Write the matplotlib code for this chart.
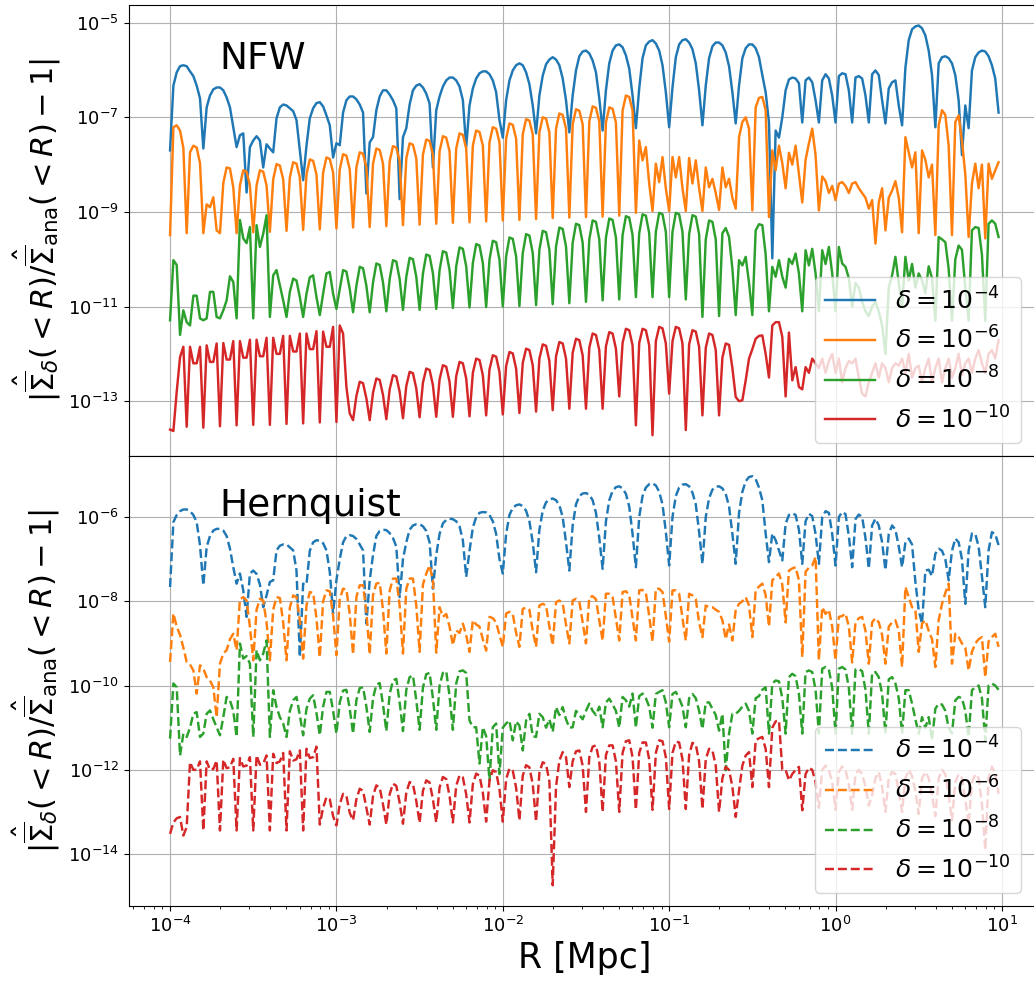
import numpy as np
import matplotlib
matplotlib.use('Agg')
import matplotlib.pyplot as plt
from matplotlib.ticker import NullLocator

# radii: 50 samples per decade starting at 1e-4 Mpc
R = np.logspace(-4, 1, 250, endpoint=False)
DELTAS = ['10^{-4}', '10^{-6}', '10^{-8}', '10^{-10}']

# log10 of the relative error, NFW profile
nfw_d4 = [
    -7.70, -6.33, -6.05, -5.92, -5.90, -5.92, -6.03, -6.13, -6.33, -6.60,
    -7.66, -6.79, -6.54, -6.41, -6.37, -6.37, -6.43, -6.58, -6.79, -7.21,
    -7.63, -7.38, -7.34, -8.59, -7.63, -7.49, -7.40, -7.49, -8.06, -7.57,
    -7.66, -7.74, -7.02, -6.79, -6.73, -6.75, -6.81, -6.87, -7.06, -7.70,
    -8.33, -7.60, -7.02, -6.81, -6.70, -6.68, -6.77, -6.96, -7.17, -7.85,
    -7.55, -7.59, -6.90, -6.64, -6.56, -6.56, -6.62, -6.73, -6.90, -8.61,
    -7.53, -7.42, -6.85, -6.56, -6.43, -6.43, -6.52, -6.64, -6.81, -8.73,
    -7.42, -7.23, -6.73, -6.43, -6.33, -6.30, -6.37, -6.50, -6.71, -8.06,
    -6.85, -6.56, -6.35, -6.22, -6.16, -6.16, -6.22, -6.35, -6.64, -7.63,
    -6.75, -6.39, -6.18, -6.07, -6.03, -6.03, -6.09, -6.22, -6.47, -7.06,
    -7.43, -6.64, -6.22, -6.01, -5.90, -5.86, -5.90, -6.05, -6.30, -6.75,
    -7.34, -6.54, -6.12, -5.88, -5.78, -5.73, -5.78, -5.90, -6.18, -6.64,
    -7.32, -6.54, -6.01, -5.71, -5.61, -5.59, -5.65, -5.80, -6.05, -6.60,
    -7.28, -6.43, -5.86, -5.59, -5.48, -5.46, -5.52, -5.69, -5.97, -6.54,
    -7.23, -6.39, -5.75, -5.48, -5.40, -5.37, -5.44, -5.59, -5.90, -6.47,
    -7.21, -6.37, -5.73, -5.46, -5.37, -5.35, -5.42, -5.56, -5.86, -6.43,
    -7.17, -6.33, -5.75, -5.50, -5.42, -5.42, -5.48, -5.63, -5.92, -6.47,
    -7.13, -6.33, -5.75, -5.54, -5.46, -5.46, -5.54, -5.73, -6.11, -6.47,
    -7.11, -9.98, -7.28, -7.43, -7.00, -6.43, -6.20, -6.16, -6.18, -6.28,
    -7.11, -6.22, -6.16, -6.26, -6.64, -7.11, -6.22, -6.09, -6.18, -6.54,
    -7.11, -6.13, -6.07, -6.09, -6.43, -7.11, -6.16, -6.13, -6.18, -6.54,
    -7.11, -6.09, -6.01, -6.11, -6.64, -7.13, -6.39, -6.26, -6.22, -6.75,
    -7.17, -5.95, -5.37, -5.14, -5.08, -5.06, -5.12, -5.27, -5.59, -6.11,
    -7.21, -5.86, -5.73, -5.71, -5.75, -5.86, -6.11, -6.64, -7.80, -6.75,
    -7.23, -6.01, -5.73, -5.63, -5.59, -5.61, -5.71, -5.90, -6.18, -6.90,
]
nfw_d6 = [
    -9.49, -7.21, -7.17, -7.28, -7.65, -9.45, -7.74, -7.60, -7.64, -7.97,
    -9.45, -8.84, -8.90, -8.69, -9.39, -9.45, -8.39, -8.06, -8.08, -8.48,
    -9.45, -8.44, -8.12, -8.15, -8.44, -9.43, -8.44, -8.12, -8.15, -8.44,
    -9.42, -8.31, -7.99, -8.02, -8.31, -9.40, -8.27, -7.95, -7.98, -8.27,
    -9.38, -8.21, -7.89, -7.92, -8.21, -9.37, -8.17, -7.85, -7.88, -8.17,
    -9.35, -8.10, -7.78, -7.81, -8.10, -9.33, -8.06, -7.74, -7.77, -8.06,
    -9.32, -7.98, -7.66, -7.69, -7.98, -9.30, -7.93, -7.61, -7.64, -7.93,
    -9.28, -7.87, -7.55, -7.58, -7.87, -9.27, -7.79, -7.47, -7.50, -7.79,
    -9.25, -7.72, -7.40, -7.43, -7.72, -9.23, -7.66, -7.34, -7.37, -7.66,
    -9.22, -7.60, -7.28, -7.31, -7.60, -9.20, -7.53, -7.21, -7.24, -7.53,
    -9.18, -7.45, -7.13, -7.16, -7.45, -9.17, -7.36, -7.04, -7.07, -7.36,
    -9.15, -7.32, -7.00, -7.03, -7.32, -9.13, -7.24, -6.92, -6.95, -7.24,
    -9.12, -7.15, -6.83, -6.86, -7.15, -9.11, -7.09, -6.77, -6.80, -7.09,
    -9.10, -7.11, -6.79, -6.82, -7.11, -9.08, -6.86, -6.54, -6.57, -6.86,
    -9.02, -7.49, -7.91, -7.63, -8.40, -8.98, -7.98, -8.37, -7.84, -8.50,
    -8.98, -7.84, -8.27, -7.84, -8.50, -8.98, -7.86, -8.40, -7.91, -8.50,
    -8.98, -8.06, -8.48, -8.30, -8.60, -8.96, -8.06, -8.48, -8.30, -8.70,
    -8.93, -7.42, -7.10, -7.00, -7.24, -8.97, -6.79, -6.59, -6.57, -6.85,
    -9.11, -7.70, -8.12, -7.60, -7.97, -8.50, -7.75, -8.00, -7.60, -8.20,
    -8.80, -7.90, -7.55, -7.24, -7.80, -8.97, -8.25, -8.35, -8.60, -8.45,
    -8.75, -8.40, -8.37, -8.45, -8.60, -8.40, -8.37, -8.50, -8.60, -8.70,
    -8.93, -8.75, -9.67, -8.80, -8.50, -9.39, -8.70, -8.55, -8.35, -8.70,
    -9.43, -7.42, -7.74, -8.06, -7.74, -9.45, -7.70, -7.90, -8.27, -8.00,
    -9.49, -7.17, -6.85, -6.95, -7.60, -9.49, -7.10, -6.96, -7.50, -8.20,
    -9.53, -8.40, -7.98, -8.50, -8.00, -9.56, -7.98, -8.30, -8.12, -7.95,
]
nfw_d8 = [
    -11.29, -10.02, -10.12, -11.60, -11.08, -11.33, -11.40, -10.77, -10.77, -11.25,
    -11.29, -11.25, -10.69, -10.69, -11.22, -11.25, -11.08, -10.87, -10.36, -10.48,
    -11.25, -9.17, -9.56, -9.66, -9.32, -11.25, -9.28, -9.74, -9.46, -9.07,
    -11.22, -10.34, -10.23, -10.55, -10.87, -11.22, -10.69, -10.41, -10.45, -10.80,
    -11.22, -10.73, -10.38, -10.34, -10.80, -11.18, -10.73, -10.30, -10.27, -10.73,
    -11.05, -10.63, -10.23, -10.26, -10.63, -11.12, -10.56, -10.16, -10.19, -10.56,
    -11.12, -10.49, -10.09, -10.12, -10.49, -11.10, -10.42, -10.02, -10.05, -10.42,
    -11.07, -10.37, -9.97, -10.00, -10.37, -11.07, -10.30, -9.90, -9.93, -10.30,
    -11.05, -10.23, -9.83, -9.86, -10.23, -11.03, -10.15, -9.75, -9.78, -10.15,
    -11.02, -10.08, -9.68, -9.71, -10.08, -11.01, -10.01, -9.61, -9.64, -10.01,
    -11.00, -9.94, -9.54, -9.57, -9.94, -10.99, -9.87, -9.47, -9.50, -9.87,
    -10.97, -9.80, -9.40, -9.43, -9.80, -10.95, -9.73, -9.33, -9.36, -9.73,
    -10.93, -9.65, -9.25, -9.28, -9.65, -10.90, -9.58, -9.18, -9.21, -9.58,
    -10.87, -9.54, -9.14, -9.17, -9.54, -10.85, -9.49, -9.09, -9.12, -9.49,
    -10.80, -9.45, -9.05, -9.08, -9.45, -10.80, -9.42, -9.02, -9.05, -9.42,
    -10.80, -9.42, -9.02, -9.05, -9.42, -10.85, -9.47, -9.07, -9.10, -9.47,
    -11.22, -9.58, -9.18, -9.21, -9.58, -11.20, -9.45, -9.34, -9.53, -10.20,
    -11.18, -10.02, -10.13, -9.95, -10.50, -11.18, -9.39, -9.26, -9.28, -9.90,
    -11.10, -10.16, -10.37, -10.02, -10.37, -10.60, -9.99, -10.10, -9.88, -10.30,
    -11.10, -9.81, -10.13, -9.78, -10.30, -11.10, -9.81, -10.10, -9.74, -10.30,
    -11.10, -9.74, -10.09, -10.16, -10.40, -11.00, -10.50, -10.60, -10.90, -11.10,
    -11.20, -11.00, -10.90, -11.10, -11.40, -12.00, -10.60, -10.34, -9.95, -10.50,
    -11.00, -9.95, -10.45, -10.10, -10.60, -10.30, -10.45, -10.72, -10.15, -10.40,
    -11.30, -9.53, -9.58, -9.64, -10.20, -11.30, -10.00, -9.71, -9.80, -10.60,
    -11.30, -9.39, -9.32, -9.34, -9.90, -11.30, -9.25, -9.18, -9.25, -9.53,
]
nfw_d10 = [
    -13.60, -13.63, -12.80, -12.07, -11.85, -13.54, -11.85, -12.20, -12.20, -11.85,
    -13.56, -11.82, -12.17, -12.17, -11.78, -13.53, -11.77, -12.12, -12.12, -11.73,
    -13.51, -11.73, -12.08, -12.08, -11.70, -13.50, -11.70, -12.05, -12.05, -11.66,
    -13.50, -11.66, -12.00, -12.00, -11.62, -13.48, -11.62, -11.95, -11.95, -11.57,
    -13.47, -11.57, -11.90, -11.90, -11.52, -13.45, -11.53, -11.85, -11.85, -11.43,
    -13.44, -11.40, -11.57, -12.70, -13.26, -13.40, -12.89, -12.59, -12.62, -12.94,
    -13.40, -12.82, -12.52, -12.55, -12.87, -13.38, -12.75, -12.45, -12.48, -12.80,
    -13.36, -12.68, -12.38, -12.41, -12.73, -13.34, -12.61, -12.31, -12.34, -12.66,
    -13.33, -12.54, -12.24, -12.27, -12.59, -13.33, -12.47, -12.17, -12.20, -12.52,
    -13.32, -12.40, -12.10, -12.13, -12.45, -13.30, -12.33, -12.03, -12.06, -12.38,
    -13.28, -12.26, -11.96, -11.99, -12.31, -13.25, -12.19, -11.89, -11.92, -12.24,
    -13.22, -12.10, -11.80, -11.83, -12.15, -13.19, -12.05, -11.75, -11.78, -12.10,
    -13.16, -11.98, -11.68, -11.71, -12.03, -13.16, -11.87, -11.57, -11.60, -11.92,
    -13.16, -11.84, -11.54, -11.57, -11.89, -12.90, -11.77, -11.47, -11.50, -11.82,
    -13.51, -11.77, -11.47, -11.50, -11.82, -13.72, -11.73, -11.43, -11.46, -11.78,
    -12.84, -11.73, -11.43, -11.46, -11.78, -13.61, -11.80, -11.50, -11.53, -11.85,
    -13.30, -11.87, -11.57, -11.60, -11.92, -13.30, -12.08, -11.78, -11.81, -12.30,
    -12.91, -13.00, -12.98, -12.56, -12.10, -11.90, -11.68, -11.62, -11.61, -12.00,
    -12.50, -11.40, -11.33, -11.33, -11.64, -12.90, -11.55, -12.56, -12.28, -12.70,
    -12.75, -12.28, -12.40, -12.10, -12.20, -12.30, -12.10, -12.40, -12.15, -12.00,
    -12.40, -12.10, -12.60, -12.30, -12.15, -12.20, -12.10, -12.50, -12.84, -12.90,
    -12.60, -12.40, -12.20, -12.50, -12.20, -12.30, -12.60, -12.30, -12.20, -12.25,
    -12.10, -12.40, -12.00, -12.50, -12.30, -12.25, -12.60, -12.30, -12.10, -12.60,
    -12.30, -12.10, -12.60, -12.30, -12.10, -12.50, -12.30, -12.00, -12.45, -12.20,
    -12.10, -12.40, -12.10, -11.92, -12.20, -12.40, -12.00, -11.92, -12.10, -11.71,
]

# log10 of the relative error, Hernquist profile
hern_d4 = [
    -7.66, -6.12, -5.95, -5.86, -5.82, -5.82, -5.86, -5.95, -6.12, -6.67,
    -7.62, -6.71, -6.45, -6.32, -6.28, -6.28, -6.32, -6.45, -6.75, -7.19,
    -7.58, -7.34, -7.74, -8.37, -7.34, -7.27, -7.35, -7.60, -8.14, -7.86,
    -7.54, -7.50, -6.79, -6.68, -6.65, -6.65, -6.72, -6.79, -7.27, -9.32,
    -7.58, -7.60, -6.80, -6.60, -6.55, -6.56, -6.62, -6.79, -7.30, -8.29,
    -7.50, -7.00, -6.60, -6.45, -6.43, -6.45, -6.52, -6.65, -6.79, -8.53,
    -7.50, -6.90, -6.45, -6.33, -6.30, -6.31, -6.38, -6.50, -6.70, -7.90,
    -7.00, -6.60, -6.30, -6.20, -6.17, -6.17, -6.22, -6.33, -6.60, -7.70,
    -6.90, -6.40, -6.15, -6.07, -6.04, -6.05, -6.10, -6.22, -6.55, -7.42,
    -6.80, -6.25, -6.00, -5.90, -5.88, -5.89, -5.95, -6.10, -6.40, -7.00,
    -7.34, -6.40, -5.95, -5.78, -5.72, -5.70, -5.74, -5.85, -6.10, -6.60,
    -7.31, -6.30, -5.85, -5.65, -5.58, -5.56, -5.60, -5.72, -6.00, -6.60,
    -7.27, -6.20, -5.70, -5.50, -5.44, -5.43, -5.47, -5.60, -5.90, -6.50,
    -7.23, -6.10, -5.60, -5.38, -5.29, -5.27, -5.32, -5.45, -5.75, -6.40,
    -7.19, -6.00, -5.50, -5.30, -5.22, -5.20, -5.25, -5.40, -5.70, -6.35,
    -7.15, -6.00, -5.50, -5.30, -5.23, -5.22, -5.27, -5.42, -5.70, -6.35,
    -7.11, -6.00, -5.55, -5.35, -5.28, -5.27, -5.32, -5.45, -5.75, -6.40,
    -7.11, -5.90, -5.40, -5.15, -5.05, -5.03, -5.10, -5.30, -5.60, -6.39,
    -7.07, -6.39, -6.55, -6.79, -7.03, -6.16, -5.95, -5.91, -5.95, -6.30,
    -7.11, -6.10, -5.92, -5.98, -6.40, -7.11, -6.00, -5.86, -5.90, -6.40,
    -7.15, -6.00, -5.88, -5.93, -6.45, -7.19, -6.05, -5.94, -6.00, -6.50,
    -7.22, -6.20, -6.04, -6.20, -6.60, -7.26, -6.40, -6.20, -6.30, -6.70,
    -7.19, -6.60, -6.51, -6.65, -7.54, -8.21, -8.53, -7.27, -7.25, -7.40,
    -6.87, -6.75, -6.80, -7.00, -7.50, -6.80, -6.51, -6.60, -7.00, -8.06,
    -6.80, -6.39, -6.40, -6.70, -7.40, -8.14, -6.79, -6.36, -6.40, -6.67,
]
hern_d6 = [
    -9.44, -8.29, -8.60, -8.80, -9.10, -9.44, -9.50, -9.64, -10.19, -9.52,
    -9.60, -9.80, -9.88, -10.04, -10.75, -9.48, -9.24, -9.16, -8.90, -8.77,
    -9.16, -7.95, -7.90, -7.98, -8.60, -9.40, -8.20, -7.94, -7.98, -8.50,
    -9.40, -8.20, -7.90, -7.92, -8.50, -9.40, -8.15, -7.86, -7.90, -8.45,
    -9.36, -8.10, -7.78, -7.80, -8.40, -9.33, -8.00, -7.74, -7.76, -8.35,
    -9.28, -7.95, -7.70, -7.72, -8.30, -9.26, -7.90, -7.62, -7.62, -8.25,
    -9.26, -7.85, -7.58, -7.56, -8.20, -9.24, -7.75, -7.46, -7.46, -8.10,
    -9.24, -7.70, -7.46, -7.46, -8.10, -9.20, -7.60, -7.34, -7.15, -7.50,
    -9.22, -8.14, -8.37, -8.30, -8.60, -9.04, -8.69, -8.75, -8.53, -8.80,
    -9.20, -8.45, -8.55, -8.60, -8.90, -9.17, -8.37, -8.40, -8.50, -8.80,
    -9.08, -8.29, -8.25, -8.30, -8.75, -9.08, -8.18, -8.15, -8.20, -8.70,
    -9.08, -8.10, -8.06, -8.10, -8.60, -9.04, -8.02, -7.98, -8.05, -8.55,
    -9.00, -7.98, -7.94, -8.00, -8.50, -9.00, -7.90, -7.88, -7.95, -8.45,
    -8.93, -7.82, -7.82, -7.90, -8.40, -8.93, -7.78, -7.76, -7.85, -8.40,
    -8.93, -7.74, -7.73, -7.80, -8.35, -8.96, -7.70, -7.70, -7.78, -8.35,
    -8.96, -7.74, -7.74, -7.82, -8.40, -8.93, -7.82, -7.86, -7.95, -8.50,
    -8.85, -8.10, -8.14, -8.14, -8.20, -8.25, -8.45, -8.90, -8.55, -8.93,
    -8.20, -8.06, -8.00, -7.90, -8.10, -8.85, -7.74, -7.65, -7.58, -7.85,
    -8.60, -7.50, -7.42, -7.34, -7.60, -8.50, -7.27, -7.22, -7.19, -7.50,
    -9.32, -7.30, -7.20, -7.15, -6.95, -9.40, -8.14, -8.30, -8.20, -8.60,
    -9.40, -8.37, -8.35, -8.29, -8.60, -9.45, -8.50, -8.40, -8.37, -8.70,
    -9.48, -8.50, -8.40, -8.50, -8.80, -9.48, -8.60, -8.50, -8.45, -8.70,
    -9.56, -7.66, -7.90, -8.14, -8.20, -9.20, -8.53, -8.45, -8.70, -8.90,
    -9.56, -8.45, -8.06, -7.80, -7.58, -9.48, -8.77, -8.85, -9.00, -9.10,
    -9.64, -9.20, -9.00, -8.90, -8.85, -9.80, -8.95, -8.85, -8.77, -9.08,
]
hern_d8 = [
    -11.26, -9.95, -10.04, -11.66, -11.14, -11.22, -11.00, -10.67, -10.63, -11.22,
    -11.14, -10.67, -10.59, -10.80, -10.99, -11.18, -10.75, -10.27, -10.35, -10.60,
    -11.22, -9.00, -9.36, -9.30, -9.48, -11.22, -9.16, -9.40, -9.24, -8.93,
    -11.22, -10.11, -10.51, -10.75, -10.90, -11.22, -10.60, -10.35, -10.27, -10.70,
    -11.18, -10.55, -10.31, -10.23, -10.65, -11.18, -10.50, -10.15, -10.15, -10.60,
    -11.14, -10.40, -10.12, -10.10, -10.55, -11.14, -10.35, -10.06, -10.04, -10.50,
    -11.10, -10.30, -9.98, -9.94, -10.45, -11.08, -10.20, -9.88, -9.84, -10.40,
    -11.08, -10.10, -9.80, -9.76, -10.35, -11.05, -10.05, -9.73, -9.70, -10.30,
    -11.05, -10.00, -9.70, -9.66, -10.25, -11.05, -9.95, -9.66, -9.64, -9.70,
    -10.83, -10.99, -10.99, -11.85, -10.99, -11.20, -12.25, -10.99, -10.90, -12.10,
    -11.00, -10.90, -10.83, -11.30, -10.85, -10.95, -11.54, -10.83, -10.67, -11.20,
    -11.22, -10.67, -10.75, -11.00, -10.80, -11.10, -10.51, -10.70, -10.51, -10.80,
    -11.00, -10.99, -10.60, -10.70, -10.80, -10.60, -10.43, -10.60, -10.70, -10.50,
    -10.99, -10.40, -10.31, -10.45, -10.60, -11.00, -10.27, -10.35, -10.50, -10.19,
    -11.00, -10.25, -10.19, -10.30, -10.50, -11.00, -10.20, -10.15, -10.11, -10.40,
    -10.99, -10.20, -10.15, -10.30, -10.50, -10.99, -10.30, -10.20, -10.30, -10.60,
    -11.03, -10.40, -10.40, -10.55, -10.70, -11.07, -10.67, -12.01, -11.14, -10.67,
    -10.67, -10.60, -10.50, -10.43, -10.60, -11.14, -10.30, -10.25, -10.10, -10.04,
    -11.14, -9.95, -9.88, -9.90, -10.30, -11.14, -9.80, -9.72, -9.78, -10.20,
    -11.14, -9.68, -9.64, -9.68, -10.10, -11.14, -9.60, -9.56, -9.62, -10.05,
    -11.14, -9.60, -9.56, -9.62, -10.05, -11.14, -9.62, -9.60, -9.66, -10.10,
    -11.14, -9.70, -9.68, -9.80, -10.20, -11.14, -9.85, -9.80, -9.95, -10.30,
    -11.14, -10.11, -10.11, -10.43, -10.80, -11.14, -10.75, -11.00, -10.75, -11.30,
    -10.55, -10.43, -10.45, -10.60, -11.00, -11.14, -10.35, -10.27, -10.30, -10.60,
    -11.22, -10.11, -10.04, -10.00, -10.30, -11.30, -10.00, -9.95, -10.00, -10.10,
]
hern_d10 = [
    -13.52, -13.25, -13.15, -13.12, -13.56, -13.36, -11.82, -12.00, -12.00, -11.80,
    -13.44, -11.80, -12.00, -11.98, -11.78, -13.44, -11.76, -11.96, -11.94, -11.74,
    -13.44, -11.72, -11.92, -11.90, -11.70, -13.44, -11.66, -11.88, -11.85, -11.66,
    -13.44, -11.62, -11.84, -11.80, -11.60, -13.44, -11.56, -11.78, -11.75, -11.54,
    -13.44, -11.50, -11.72, -11.70, -11.45, -13.30, -12.90, -12.65, -12.70, -13.10,
    -13.32, -12.82, -12.57, -12.62, -13.02, -13.20, -12.70, -12.45, -12.50, -12.90,
    -13.30, -12.62, -12.37, -12.42, -12.82, -13.30, -12.58, -12.33, -12.38, -12.78,
    -13.28, -12.54, -12.29, -12.34, -12.74, -13.26, -12.50, -12.25, -12.30, -12.70,
    -13.25, -12.42, -12.17, -12.22, -12.62, -13.25, -12.38, -12.13, -12.18, -12.58,
    -13.25, -12.34, -12.09, -12.14, -12.54, -13.23, -12.26, -12.01, -12.06, -12.46,
    -13.23, -12.22, -11.97, -12.02, -12.42, -13.20, -12.14, -11.89, -11.94, -12.34,
    -13.23, -12.07, -11.82, -11.87, -12.27, -14.74, -12.40, -11.78, -11.58, -11.70,
    -12.41, -11.80, -11.56, -11.54, -11.90, -13.00, -11.70, -11.45, -11.42, -11.80,
    -13.00, -11.65, -11.42, -11.42, -11.80, -13.00, -11.60, -11.32, -11.30, -11.70,
    -12.95, -11.60, -11.35, -11.35, -11.75, -12.95, -11.60, -11.30, -11.32, -11.70,
    -12.93, -11.60, -11.33, -11.35, -11.75, -12.93, -11.65, -11.36, -11.40, -11.80,
    -12.93, -11.75, -11.50, -11.54, -11.90, -13.00, -12.20, -11.93, -12.00, -12.40,
    -13.12, -12.49, -11.90, -11.66, -11.58, -12.41, -11.30, -11.25, -11.22, -11.50,
    -12.41, -11.00, -10.85, -10.83, -12.00, -12.00, -12.25, -12.10, -12.00, -11.93,
    -12.96, -12.10, -11.95, -12.00, -12.30, -12.90, -12.00, -11.90, -12.00, -12.30,
    -12.95, -12.05, -11.92, -12.00, -12.35, -12.95, -12.10, -12.00, -12.10, -12.40,
    -12.85, -12.60, -12.20, -12.05, -12.40, -13.00, -12.20, -12.05, -12.10, -12.50,
    -13.00, -12.20, -12.00, -12.15, -12.50, -13.05, -12.20, -12.05, -12.20, -12.60,
    -13.10, -12.20, -12.00, -12.10, -12.60, -13.20, -12.30, -12.10, -12.20, -12.70,
    -13.30, -12.30, -12.10, -12.20, -12.80, -13.90, -12.20, -11.92, -12.10, -12.57,
]

COLORS = ['C0', 'C1', 'C2', 'C3']
YLABEL = r'$|\hat{\overline{\Sigma}}_\delta(<R)/\hat{\overline{\Sigma}}_{\rm ana}(<R)-1|$'

fig = plt.figure(figsize=(10.34, 9.82), dpi=100)
# right edge of the axes runs just past the canvas
ax1 = fig.add_axes([0.1244, 0.5359, 0.8814, 0.4590])
ax2 = fig.add_axes([0.1244, 0.0777, 0.8814, 0.4582], sharex=ax1)

panels = [
    (ax1, [nfw_d4, nfw_d6, nfw_d8, nfw_d10], '-', 'NFW', 0.857,
     [1e-13, 1e-11, 1e-9, 1e-7, 1e-5]),
    (ax2, [hern_d4, hern_d6, hern_d8, hern_d10], '--', 'Hernquist', 0.866,
     [1e-14, 1e-12, 1e-10, 1e-8, 1e-6]),
]

for ax, curves, ls, name, ytxt, yt in panels:
    for vals, d, c in zip(curves, DELTAS, COLORS):
        ax.loglog(R, 10.0**np.array(vals), ls=ls, color=c, lw=1.75,
                  label=r'$\delta=%s$' % d)
    ax.set_yticks(yt)
    ax.yaxis.set_minor_locator(NullLocator())
    ax.grid(True)
    ax.tick_params(labelsize=13)
    ax.set_ylabel(YLABEL, fontsize=22)
    ax.legend(loc='lower right', fontsize=18, bbox_to_anchor=(0.993, 0.0))
    ax.text(0.100, ytxt, name, transform=ax.transAxes, fontsize=27)

ax1.tick_params(labelbottom=False)
ax2.set_xlabel('R [Mpc]', fontsize=25)

fig.savefig('out.png', dpi=100)
